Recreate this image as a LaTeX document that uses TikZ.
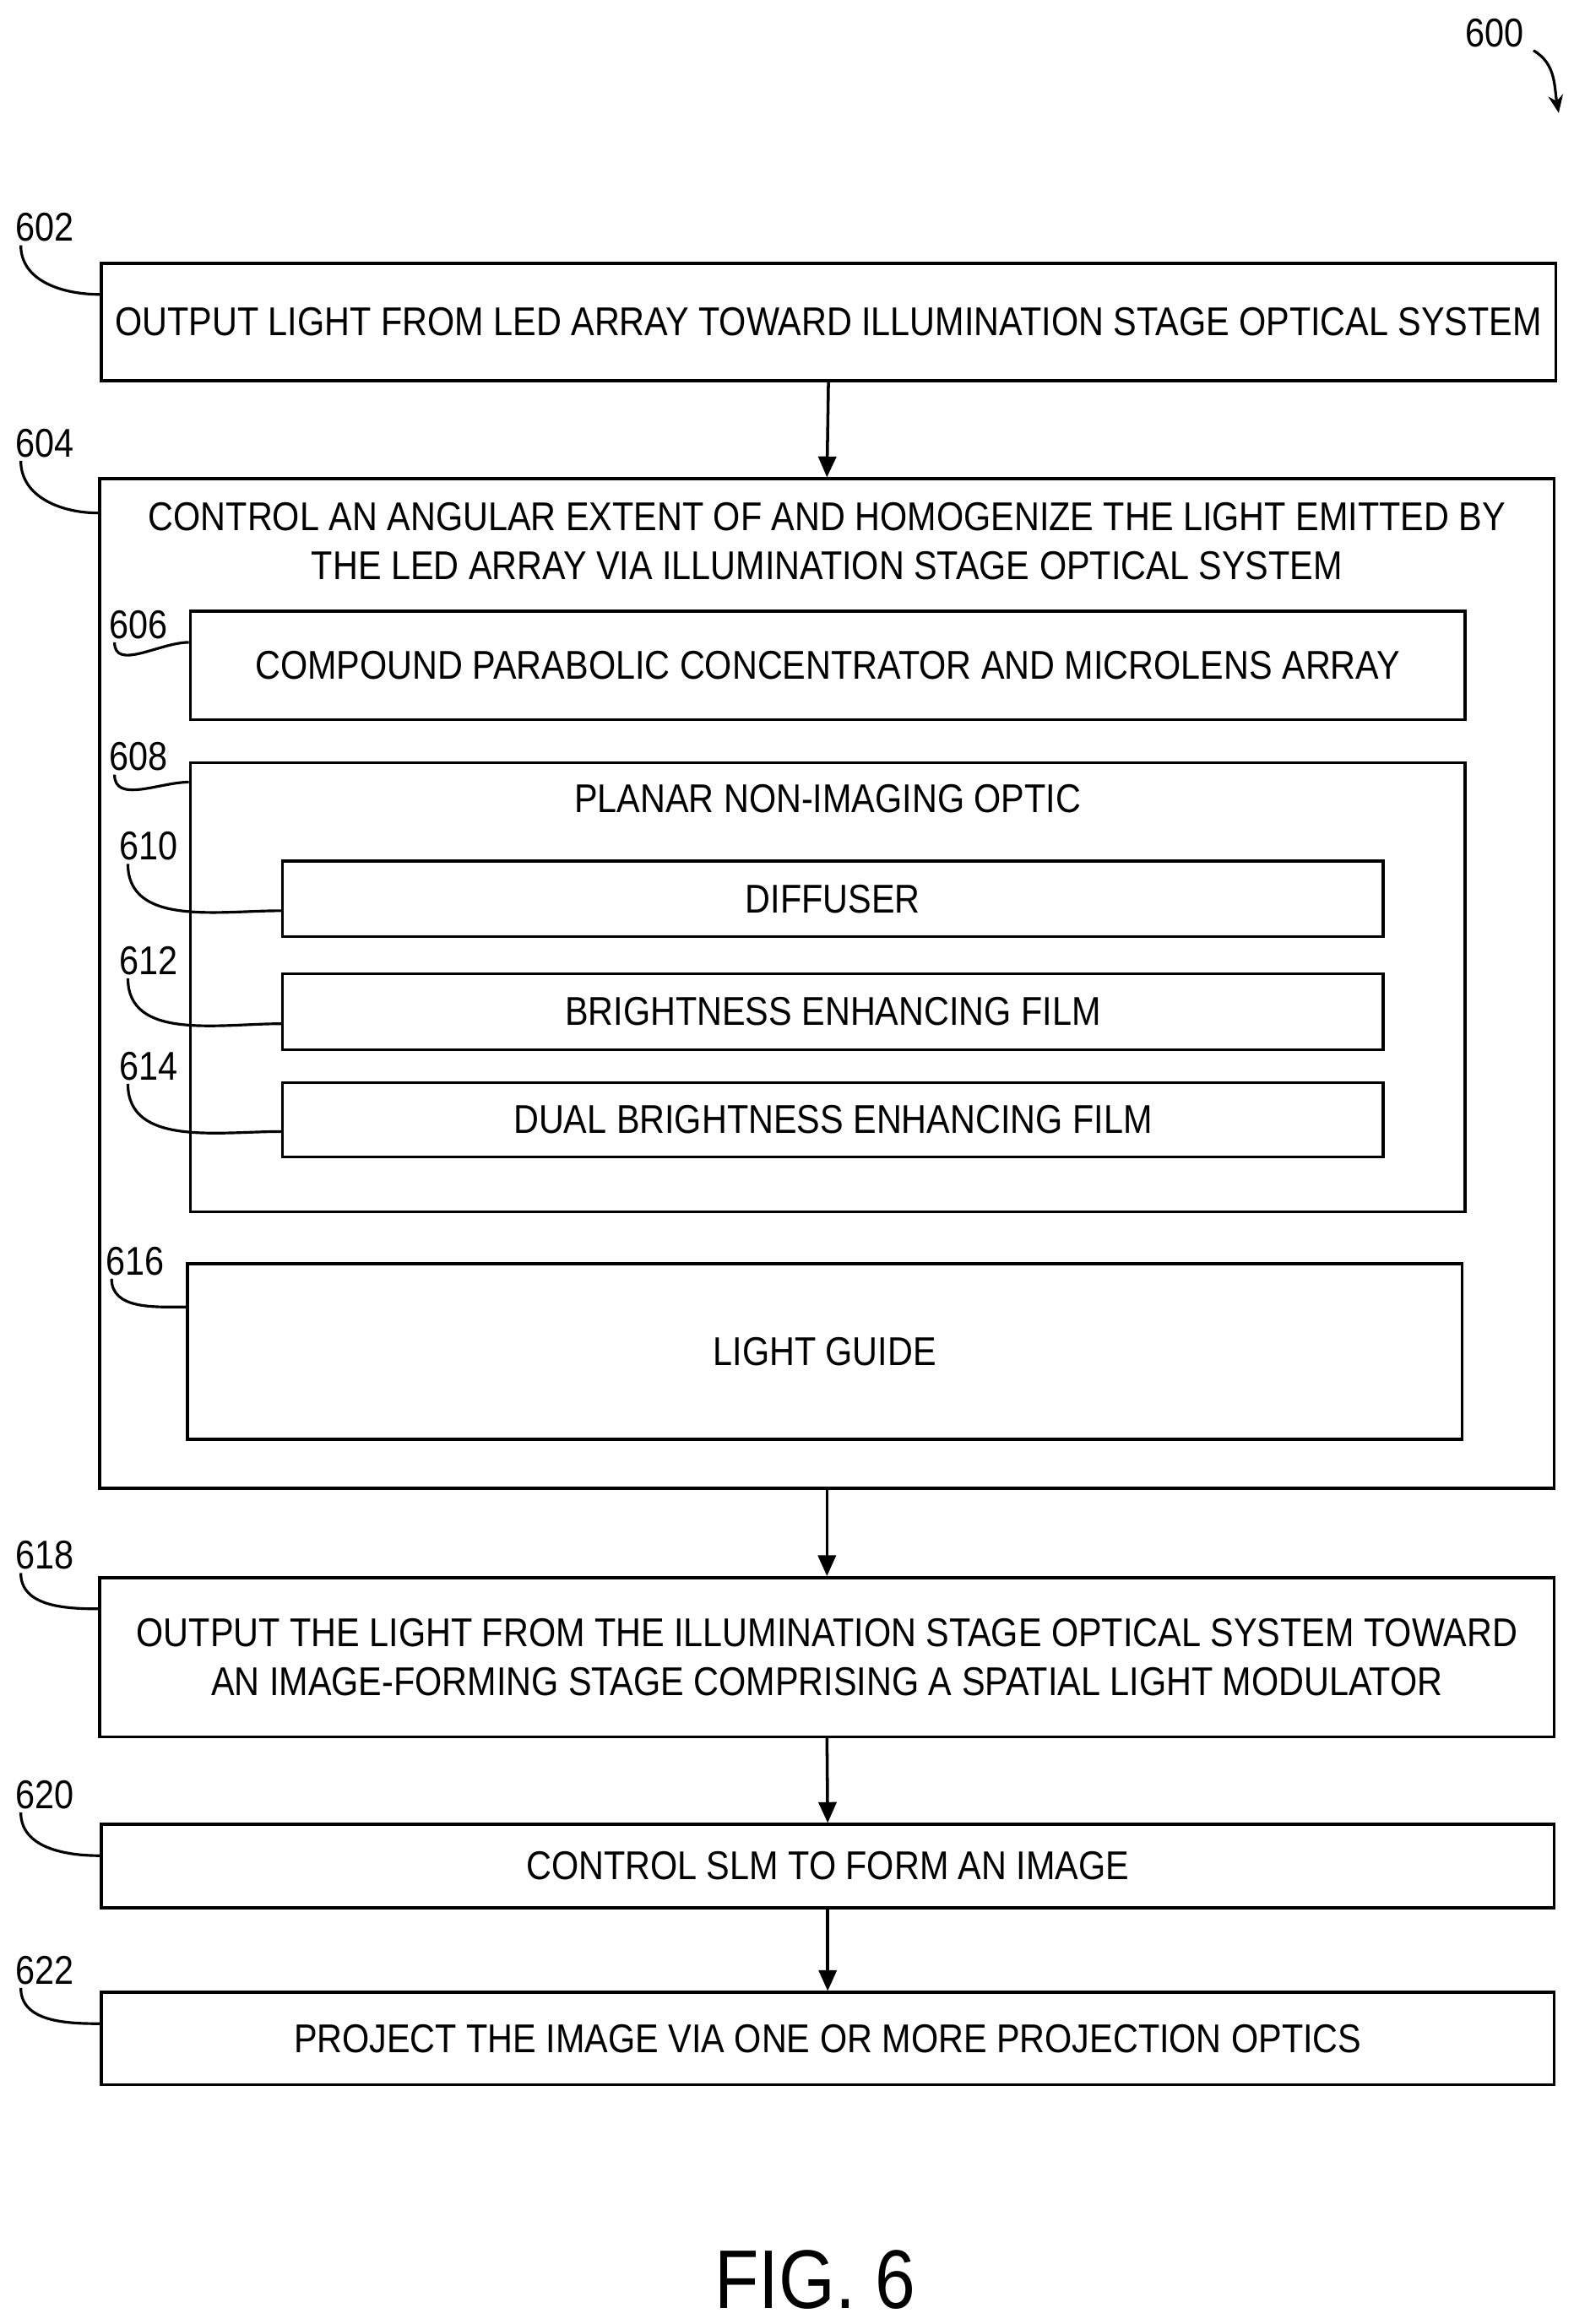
\documentclass[tikz,border=0pt]{standalone}
\usepackage{fontspec}
\setmainfont{Liberation Sans}[FakeStretch=0.87]
\usetikzlibrary{positioning,arrows.meta}
\tikzset{
  box/.style={draw,line width=1pt,inner sep=0pt,align=center,font=\fontsize{13.5}{16.5}\selectfont},
  ref/.style={font=\fontsize{13.5}{16}\selectfont,inner sep=1pt},
  hook/.style={line width=0.9pt},
  flow/.style={line width=1pt,-{Triangle[length=7pt,width=6pt]}}
}
\begin{document}
\begin{tikzpicture}[x=0.5pt,y=-0.5pt]
  \useasboundingbox (0,0) rectangle (1058,1563);
  % boxes
  \node (b602)[box,minimum width=489pt,minimum height=39.5pt] at (557,216.5)
    {OUTPUT LIGHT FROM LED ARRAY TOWARD ILLUMINATION STAGE OPTICAL SYSTEM};
  \node (b604)[draw,line width=1pt,minimum width=489pt,minimum height=339.5pt,inner sep=0pt] at (556,661.5) {};
  \node (t604)[box,draw=none] at (556,364)
    {CONTROL AN ANGULAR EXTENT OF AND HOMOGENIZE THE LIGHT EMITTED BY\\THE LED ARRAY VIA ILLUMINATION STAGE OPTICAL SYSTEM};
  \node (b606)[box,minimum width=428.5pt,minimum height=36.5pt] at (556.5,447.5)
    {COMPOUND PARABOLIC CONCENTRATOR AND MICROLENS ARRAY};
  \node (b608)[draw,line width=1pt,minimum width=428.5pt,minimum height=151pt,inner sep=0pt] at (556.5,664) {};
  \node (t608)[box,draw=none] at (556.5,537) {PLANAR NON-IMAGING OPTIC};
  \node (b610)[box,minimum width=370pt,minimum height=25.5pt] at (560,604.5) {DIFFUSER};
  \node (b612)[box,minimum width=370pt,minimum height=25.5pt] at (560,680.5) {BRIGHTNESS ENHANCING FILM};
  \node (b614)[box,minimum width=370pt,minimum height=25pt] at (560,753) {DUAL BRIGHTNESS ENHANCING FILM};
  \node (b616)[box,minimum width=428.5pt,minimum height=59pt] at (554.5,909) {LIGHT GUIDE};
  \node (b618)[box,minimum width=489pt,minimum height=53.5pt] at (556,1114.5)
    {OUTPUT THE LIGHT FROM THE ILLUMINATION STAGE OPTICAL SYSTEM TOWARD\\AN IMAGE-FORMING STAGE COMPRISING A SPATIAL LIGHT MODULATOR};
  \node (b620)[box,minimum width=488.5pt,minimum height=28pt] at (556.5,1255) {CONTROL SLM TO FORM AN IMAGE};
  \node (b622)[box,minimum width=488.5pt,minimum height=31pt] at (556.5,1371) {PROJECT THE IMAGE VIA ONE OR MORE PROJECTION OPTICS};

  % flow arrows
  \foreach \from/\to in {b602/b604,b604/b618,b618/b620,b620/b622}
    \draw[flow] (\from.south) -- (\to.north);

  % reference numerals
  \node (l600)[ref] at (1005,22) {600};
  \node (l602)[ref] at (30,153) {602};
  \node (l604)[ref] at (30,298) {604};
  \node (l606)[ref] at (93,420) {606};
  \node (l608)[ref] at (93,509) {608};
  \node (l610)[ref] at (100,569) {610};
  \node (l612)[ref] at (100,646) {612};
  \node (l614)[ref] at (100,717) {614};
  \node (l616)[ref] at (91,848) {616};
  \node (l618)[ref] at (30,1046) {618};
  \node (l620)[ref] at (30,1207) {620};
  \node (l622)[ref] at (30,1325) {622};
  \node (fig)[font=\fontsize{28}{32}\selectfont] at (548,1533) {FIG. 6};

  \draw[hook,-{Stealth[length=6pt,width=5pt]}] ([xshift=2pt]l600.south east) to[out=-30,in=100] (1048,76);
  \foreach \l/\b/\d in {l602/b602/22,l604/b604/24,l618/b618/22,l620/b620/22,l622/b622/22,l606/b606/22,l608/b608/14,l616/b616/30}
    \draw[hook] ([xshift=3pt]\l.south west) to[out=-90,in=180] ([yshift=-\d*0.5pt]\b.north west);
  \foreach \l/\b in {l610/b610,l612/b612,l614/b614}
    \draw[hook] ([xshift=4pt]\l.south west) to[out=-90,in=180] ([yshift=-4pt]\b.west);
\end{tikzpicture}
\end{document}
